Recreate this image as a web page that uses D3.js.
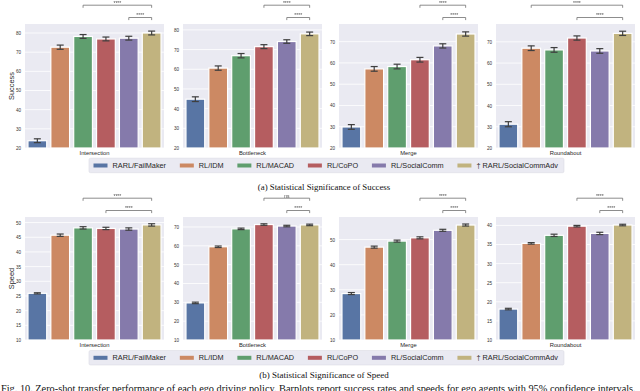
<!DOCTYPE html>
<html>
<head>
<meta charset="utf-8">
<script src="https://cdn.jsdelivr.net/npm/d3@7"></script>
<style>
  body { margin: 0; background: #fff; }
  svg { display: block; }
  text { font-family: "Liberation Sans", Arial, sans-serif; fill: #262626; }
  .cap { font-family: "Liberation Serif", "Times New Roman", serif; fill: #111; }
  .stars { fill: #4a4a4a; filter: grayscale(1); }
</style>
</head>
<body>
<div id="fig"></div>
<script>
// methods (hue) and scenarios (one panel each)
var methods = ["RARL/FailMaker", "RL/IDM", "RL/MACAD", "RL/CoPO", "RL/SocialComm", "\u2020 RARL/SocialCommAdv"];
var scenarios = ["Intersection", "Bottleneck", "Merge", "Roundabout"];
var colors = ["#5875a4", "#cc8963", "#5f9e6e", "#b55d60", "#857aab", "#c1b37f"];

// success rate, one row per scenario
var successMeans = [
  [23.8, 72.6, 78.2, 76.9, 77.3, 80.0],
  [44.8, 60.6, 66.9, 71.5, 74.1, 78.0],
  [29.9, 57.2, 58.3, 61.5, 68.0, 73.6],
  [31.2, 67.0, 66.2, 71.8, 65.7, 74.0]
];
var successErr = [
  [1.0, 1.1, 1.0, 1.0, 1.0, 1.0],
  [1.2, 1.1, 1.1, 1.0, 0.9, 0.9],
  [1.1, 1.1, 1.1, 1.1, 1.0, 1.0],
  [1.2, 1.1, 1.1, 1.0, 1.1, 1.0]
];
var successTop = [84.7, 83.0, 78.3, 78.4];
var successTicks = [
  [20, 30, 40, 50, 60, 70, 80],
  [20, 30, 40, 50, 60, 70, 80],
  [20, 30, 40, 50, 60, 70],
  [20, 30, 40, 50, 60, 70]
];
var successPairs = [[[2, 5], [4, 5]], [[3, 5], [4, 5]], [[3, 5], [4, 5]], [[1, 5], [3, 5]]];
var successStars = [["****", "****"], ["****", "****"], ["****", "****"], ["****", "****"]];

// speed, one row per scenario
var speedMeans = [
  [25.9, 45.7, 48.2, 48.0, 47.8, 49.2],
  [29.7, 59.5, 69.0, 71.3, 70.5, 71.1],
  [28.5, 47.0, 49.4, 50.7, 53.7, 55.8],
  [18.1, 35.3, 37.4, 39.8, 37.9, 40.1]
];
var speedErr = [
  [0.2, 0.4, 0.4, 0.4, 0.4, 0.4],
  [0.4, 0.4, 0.4, 0.4, 0.4, 0.4],
  [0.4, 0.4, 0.4, 0.4, 0.4, 0.4],
  [0.2, 0.2, 0.3, 0.2, 0.3, 0.2]
];
var speedTop = [51.9, 75.3, 59.0, 42.2];
var speedTicks = [
  [10, 15, 20, 25, 30, 35, 40, 45, 50],
  [10, 20, 30, 40, 50, 60, 70],
  [10, 20, 30, 40, 50],
  [10, 15, 20, 25, 30, 35, 40]
];
var speedPairs = [[[2, 5], [3, 5]], [[3, 5], [4, 5]], [[3, 5], [4, 5]], [[3, 5], [4, 5]]];
var speedStars = [["****", "****"], ["ns", "****"], ["****", "****"], ["****", "****"]];

var svgWidth = 640, svgHeight = 391;
var panelLeft = [25, 183, 339, 496];
var panelWidth = 139;

var svg = d3.select("#fig").append("svg")
  .attr("width", svgWidth)
  .attr("height", svgHeight);

function drawRow(top, height, yMin, means, errs, tops, ticks, pairs, stars, yLabel) {
  scenarios.forEach(function (name, p) {
    var g = svg.append("g").attr("transform", `translate(${panelLeft[p]}, ${top})`);

    var x = d3.scaleBand()
      .domain(d3.range(methods.length))
      .range([0, panelWidth])
      .paddingInner(0.18)
      .paddingOuter(0.13);
    var y = d3.scaleLinear()
      .domain([yMin, tops[p]])
      .range([height, 0]);

    g.append("rect")
      .attr("width", panelWidth)
      .attr("height", height)
      .attr("fill", "#eaeaf2");

    // white grid
    g.selectAll(".grid")
      .data(ticks[p])
      .enter()
      .append("line")
      .attr("x1", 0)
      .attr("x2", panelWidth)
      .attr("y1", d => y(d))
      .attr("y2", d => y(d))
      .attr("stroke", "#fff")
      .attr("stroke-width", 0.8);

    var rows = means[p].map((v, i) => ({ i: i, v: v, e: errs[p][i] }));

    g.selectAll(".bar")
      .data(rows)
      .enter()
      .append("rect")
      .attr("x", d => x(d.i))
      .attr("y", d => y(d.v))
      .attr("width", x.bandwidth())
      .attr("height", d => height - y(d.v))
      .attr("fill", d => colors[d.i])
      .attr("stroke", "#fff")
      .attr("stroke-width", 1.2);

    // error bars
    var cap = 3.5;
    var eb = g.selectAll(".err")
      .data(rows)
      .enter()
      .append("g")
      .attr("stroke", "#3f3f3f")
      .attr("stroke-width", 1.2);
    eb.append("line")
      .attr("x1", d => x(d.i) + x.bandwidth() / 2)
      .attr("x2", d => x(d.i) + x.bandwidth() / 2)
      .attr("y1", d => y(d.v - d.e))
      .attr("y2", d => y(d.v + d.e));
    eb.append("line")
      .attr("x1", d => x(d.i) + x.bandwidth() / 2 - cap)
      .attr("x2", d => x(d.i) + x.bandwidth() / 2 + cap)
      .attr("y1", d => y(d.v - d.e))
      .attr("y2", d => y(d.v - d.e));
    eb.append("line")
      .attr("x1", d => x(d.i) + x.bandwidth() / 2 - cap)
      .attr("x2", d => x(d.i) + x.bandwidth() / 2 + cap)
      .attr("y1", d => y(d.v + d.e))
      .attr("y2", d => y(d.v + d.e));

    // y axis
    var leftAxis = d3.axisLeft(y).tickValues(ticks[p]).tickSize(0).tickPadding(4);
    var ya = g.append("g").call(leftAxis);
    ya.select(".domain").remove();
    ya.selectAll("text").attr("font-size", 4.6).style("fill", "#333");

    // category label
    g.append("text")
      .attr("x", panelWidth / 2)
      .attr("y", height + 7)
      .attr("text-anchor", "middle")
      .attr("font-size", 5.8)
      .text(name);

    // significance brackets
    var levels = [-18.8, -6.5];
    pairs[p].forEach(function (pr, k) {
      var x1 = x(pr[0]) + x.bandwidth() / 2;
      var x2 = x(pr[1]) + x.bandwidth() / 2;
      var by = levels[k];
      g.append("path")
        .attr("d", `M${x1},${by + 2.6}V${by}H${x2}V${by + 2.6}`)
        .attr("fill", "none")
        .attr("stroke", "#707070")
        .attr("stroke-width", 0.8);
      g.append("text")
        .attr("class", "stars")
        .attr("x", (x1 + x2) / 2)
        .attr("y", by - 0.6)
        .attr("text-anchor", "middle")
        .attr("font-size", 5)
        .text(stars[p][k]);
    });
  });

  svg.append("text")
    .attr("transform", `translate(14, ${top + height / 2}) rotate(-90)`)
    .attr("text-anchor", "middle")
    .attr("font-size", 7.4)
    .text(yLabel);
}

function drawLegend(top) {
  var lg = svg.append("g");
  var box = lg.append("rect")
    .attr("y", top)
    .attr("height", 14.5)
    .attr("fill", "#eaeaf2")
    .attr("stroke", "#dcdce4")
    .attr("stroke-width", 0.6)
    .attr("rx", 1.5);
  var cursor = 93.5;
  methods.forEach(function (m, i) {
    lg.append("rect")
      .attr("x", cursor)
      .attr("y", top + 5.3)
      .attr("width", 14)
      .attr("height", 4)
      .attr("fill", colors[i]);
    var t = lg.append("text")
      .attr("x", cursor + 19)
      .attr("y", top + 9.9)
      .attr("font-size", 7.3)
      .text(m);
    cursor += 19 + t.node().getComputedTextLength() + 13.8;
  });
  box.attr("x", 89).attr("width", cursor - 13.8 + 6 - 89);
}

drawRow(24, 124, 20, successMeans, successErr, successTop, successTicks, successPairs, successStars, "Success");
drawLegend(158.2);
svg.append("text").attr("class", "cap")
  .attr("x", 324).attr("y", 190.3)
  .attr("text-anchor", "middle")
  .attr("font-size", 8.8)
  .text("(a) Statistical Significance of Success");

drawRow(217, 123, 10, speedMeans, speedErr, speedTop, speedTicks, speedPairs, speedStars, "Speed");
drawLegend(350.5);
svg.append("text").attr("class", "cap")
  .attr("x", 324).attr("y", 378)
  .attr("text-anchor", "middle")
  .attr("font-size", 9)
  .text("(b) Statistical Significance of Speed");

svg.append("text").attr("class", "cap")
  .attr("x", 1).attr("y", 391.5)
  .attr("font-size", 10.3)
  .text("Fig. 10.  Zero-shot transfer performance of each ego driving policy. Barplots report success rates and speeds for ego agents with 95% confidence intervals.");
</script>
</body>
</html>
